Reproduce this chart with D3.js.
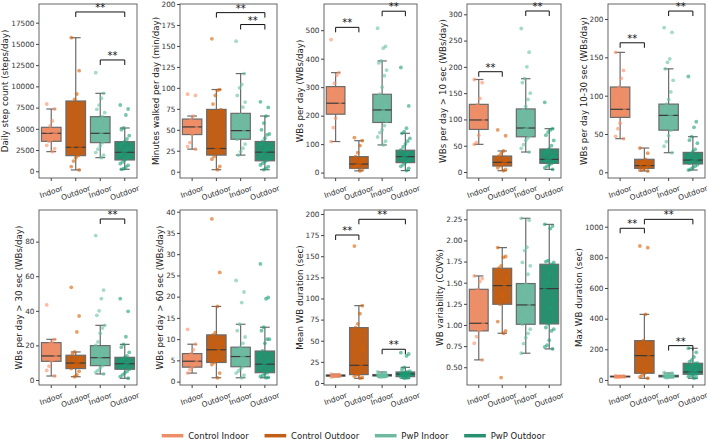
<!DOCTYPE html>
<html>
<head>
<meta charset="utf-8">
<script src="https://cdn.jsdelivr.net/npm/d3@7"></script>
<style>
  body { margin: 0; background: #fff; }
  svg { display: block; font-family: "DejaVu Sans", sans-serif; }
</style>
</head>
<body>
<svg id="chart" width="708" height="440"></svg>
<script>
const groups = ['Control Indoor', 'Control Outdoor', 'PwP Indoor', 'PwP Outdoor'];
const xLabels = ['Indoor', 'Outdoor', 'Indoor', 'Outdoor'];

const yLabels = [
    'Daily step count (steps/day)',
    'Minutes walked per day (min/day)',
    'WBs per day (WBs/day)',
    'WBs per day > 10 sec (WBs/day)',
    'WBs per day 10-30 sec (WBs/day)',
    'WBs per day > 30 sec (WBs/day)',
    'WBs per day > 60 sec (WBs/day)',
    'Mean WB duration (sec)',
    'WB variability (COV%)',
    'Max WB duration (sec)'
];

const yDomains = [
    [-790, 19700], [-7.5, 200], [-19, 592], [-11.4, 319.6], [-7.4, 219.6],
    [-2.9, 98.3], [-0.8, 40.4], [-2.4, 204.7], [0.29, 2.36], [-33, 1109]
];

const yTicks = [
    [0, 2500, 5000, 7500, 10000, 12500, 15000, 17500],
    [0, 25, 50, 75, 100, 125, 150, 175, 200],
    [0, 100, 200, 300, 400, 500],
    [0, 50, 100, 150, 200, 250, 300],
    [0, 50, 100, 150, 200],
    [0, 20, 40, 60, 80],
    [0, 5, 10, 15, 20, 25, 30, 35, 40],
    [0, 25, 50, 75, 100, 125, 150, 175, 200],
    [0.5, 0.75, 1.0, 1.25, 1.5, 1.75, 2.0, 2.25],
    [0, 200, 400, 600, 800, 1000]
];
const yFormats = ['d', 'd', 'd', 'd', 'd', 'd', 'd', 'd', '.2f', 'd'];

// [whisker low, Q1, median, Q3, whisker high] per panel, per group
const boxStats = [
    [[2315, 3531, 4472, 5178, 7336], [157, 1844, 2825, 8278, 15730], [1608, 3374, 4472, 6434, 9180], [235, 1334, 2236, 3492, 5100]],
    [[26.9, 44.3, 53.4, 62.8, 66.4], [2.4, 19.8, 27.7, 74.3, 98], [19.8, 38.7, 49, 69.6, 117], [2.4, 13, 23.3, 36, 66.4]],
    [[109, 205, 243.6, 302, 351], [6, 15, 30, 56, 112], [97, 176, 220, 275, 392], [7, 35, 56, 78.5, 138]],
    [[52.6, 81, 99, 128.7, 176], [2.5, 11.4, 18.4, 30.4, 40], [38, 67, 83.7, 120, 177.5], [5, 16.5, 24, 43.8, 82.4]],
    [[43.9, 71.7, 82.2, 111.3, 156.5], [1.7, 5.2, 8.7, 17, 31.7], [25.6, 55, 74.3, 89, 135], [3, 10.9, 16, 26, 46.5]],
    [[2.3, 10.8, 13.9, 21.6, 23.5], [1.9, 6.6, 9.8, 14.3, 16.2], [3.5, 8.3, 12.9, 19.9, 31.6], [1, 6.2, 9.4, 13.1, 20.6]],
    [[2.0, 3.4, 4.8, 6.6, 8.8], [0.9, 4.5, 7.5, 11.0, 17.7], [0.9, 3.5, 5.9, 8.1, 13.5], [0.9, 2.1, 4.1, 7.2, 12.8]],
    [[7.2, 8.0, 8.8, 9.5, 10.5], [5.5, 9.9, 20.9, 65.5, 91.5], [7, 8.2, 9, 10, 13], [5.5, 7.5, 10.6, 13, 18.5]],
    [[0.587, 0.93, 1.02, 1.422, 1.58], [0.902, 1.245, 1.466, 1.671, 1.915], [0.666, 1.008, 1.237, 1.49, 2.262], [0.717, 1.012, 1.43, 1.718, 2.19]],
    [[17, 20, 22, 25, 28], [11, 43.5, 158.7, 256.5, 428], [15, 20, 25, 30, 45], [11, 37, 52, 108.7, 206.5]]
];

// individual subjects per panel, per group
const points = [
    [
        [7925, 7336, 5924, 5335, 4668, 4472, 4300, 3688, 3531, 3060, 2668, 2315],
        [15730, 11848, 9100, 8470, 2900, 2825, 1844, 1600, 1200, 550, 157],
        [11612, 9180, 8600, 7800, 7300, 6900, 6434, 5900, 5500, 5100, 4800, 4472, 4200, 3900, 3600, 3374, 3000, 2600, 2200, 1900, 1608],
        [7807, 7336, 6630, 5100, 4900, 4200, 3800, 3492, 3300, 3000, 2700, 2400, 2236, 2000, 1800, 1600, 1334, 1100, 900, 700, 500, 300, 235]
    ],
    [
        [92.5, 91, 66.4, 62, 57, 53.4, 50, 44.3, 34.8, 30, 26.9],
        [158.5, 98, 97, 91, 80.6, 74, 28, 27.7, 18, 15, 6.3, 2.4],
        [155.7, 117, 104, 100, 91, 83, 77, 68, 60, 55, 49, 45, 42, 38.7, 33, 28, 24, 19.8],
        [83.4, 76.7, 66.4, 58, 50, 45, 44, 40, 36, 32, 28, 25, 23.3, 20, 17, 14, 12, 10, 8, 6, 4, 2.4]
    ],
    [
        [467, 351, 342, 314, 290, 245, 230, 191, 158, 109],
        [123, 112, 95, 70, 56, 45, 35, 30, 25, 18, 12, 6],
        [507, 443, 437, 392, 385, 360, 340, 300, 275, 250, 235, 220, 205, 195, 180, 165, 150, 140, 125, 110, 97],
        [369, 234, 156, 144, 138, 120, 110, 100, 90, 80, 70, 62, 56, 50, 45, 40, 35, 28, 22, 15, 7]
    ],
    [
        [176, 170, 140, 128, 110, 99, 90, 70, 56, 52.6],
        [80, 69, 40, 35, 30, 22, 18, 15, 12, 8, 5, 2.5],
        [273, 228, 200, 177.5, 170, 150, 138, 125, 118, 105, 95, 84, 80, 75, 70, 65, 60, 52, 45, 38],
        [132.5, 82.4, 80, 76, 70, 60, 50, 44, 40, 35, 30, 26, 24, 22, 19, 16, 14, 11, 8, 5]
    ],
    [
        [156.5, 133, 122.6, 111, 95, 82, 78, 64, 57, 47, 43.9],
        [31.7, 25, 17, 12, 10, 8.7, 7, 5.2, 4, 3, 1.7],
        [188.7, 182.6, 148, 143.5, 135, 120, 105, 95, 89, 82, 76, 74, 70, 64, 58, 55, 48, 40, 34, 25.6],
        [125, 66, 58.7, 46.5, 42, 38, 30, 27, 24, 20, 17, 16, 14, 12, 10, 8, 6, 4, 3]
    ],
    [
        [43.4, 23.5, 22, 21, 18, 14, 12, 10.8, 8, 5.5, 2.3],
        [53.6, 37, 27.8, 16.2, 15, 12, 10, 9.8, 8, 6.6, 5, 3, 1.9],
        [83.5, 52, 47, 40, 37.4, 31.6, 30, 27, 22, 20, 17, 14, 13, 11, 9.5, 8.3, 7, 5.5, 4.5, 3.5],
        [47, 39.7, 25, 20.6, 19, 16, 14, 13, 12, 11, 10, 9.4, 8, 7, 6.2, 5, 4, 3, 2, 1]
    ],
    [
        [12.3, 8.8, 7.5, 6.6, 5.5, 4.8, 4, 3.4, 2.8, 2.0],
        [38.3, 25.7, 17.7, 11.5, 11, 9, 7.5, 5, 4.5, 4, 2, 0.9],
        [23.8, 21.1, 18.6, 13.5, 12, 10.5, 9, 8.1, 7.5, 7, 6, 5.9, 5, 4.5, 4, 3.5, 3, 2.5, 2, 1.5, 0.9],
        [27.7, 19.8, 19.5, 12.8, 12, 10, 10, 9, 7.2, 6, 5, 4.5, 4.1, 3.5, 3, 2.1, 1.8, 1.4, 1.2, 1, 0.9]
    ],
    [
        [10.5, 9.8, 9.5, 9.2, 8.8, 8.5, 8.2, 8, 7.6, 7.2],
        [162, 91.5, 82, 70, 65.5, 40, 20.9, 10, 9.9, 8, 6.5, 5.5],
        [13, 12, 11, 10.5, 10, 9.7, 9.4, 9.2, 9, 8.8, 8.6, 8.4, 8.2, 8, 7.8, 7.5, 7.2, 7],
        [35.9, 34.3, 32, 18.5, 16, 14, 13, 12.5, 12, 11.5, 11, 10.6, 10, 9.5, 9, 8.5, 8, 7.5, 7, 6.5, 6, 5.5]
    ],
    [
        [1.58, 1.55, 1.513, 1.42, 1.2, 1.02, 0.95, 0.93, 0.863, 0.784, 0.587],
        [1.915, 1.81, 1.80, 1.70, 1.671, 1.55, 1.466, 1.35, 1.245, 1.04, 0.93, 0.902, 0.378],
        [2.262, 2.24, 1.92, 1.88, 1.74, 1.70, 1.60, 1.481, 1.40, 1.30, 1.237, 1.15, 1.05, 1.008, 0.95, 0.90, 0.85, 0.78, 0.666],
        [2.19, 2.17, 2.14, 1.76, 1.75, 1.74, 1.718, 1.60, 1.50, 1.43, 1.30, 1.20, 1.012, 0.97, 0.95, 0.93, 0.82, 0.76, 0.74, 0.717]
    ],
    [
        [28, 26, 25, 24, 22, 21, 20, 19, 18, 17],
        [874, 863, 428, 256, 200, 158.7, 60, 43.5, 30, 20, 11],
        [50, 45, 40, 35, 32, 30, 28, 27, 25, 24, 23, 22, 21, 20, 19, 18, 17, 15],
        [206.5, 180, 150, 130, 120, 110, 108.7, 95, 80, 70, 60, 52, 48, 44, 40, 37, 33, 28, 22, 16, 11]
    ]
];

// significance brackets: [group a, group b, bracket level]
const brackets = [
    [[1, 3, 18760], [2, 3, 13110]],
    [[1, 3, 189.7], [2, 3, 175.5]],
    [[0, 1, 510], [2, 3, 566.7]],
    [[0, 1, 190.8], [2, 3, 306.3]],
    [[0, 1, 169], [2, 3, 210.4]],
    [[2, 3, 93.1]],
    [],
    [[0, 1, 175.1], [1, 3, 193.7], [2, 3, 39.9]],
    [],
    [[0, 1, 989.6], [1, 3, 1048], [2, 3, 224]]
];

const boxColors = ['#ec8e68', '#c25f17', '#6fb9a1', '#28906f'];
const dotColors = ['#fc8d62', '#d95f02', '#66c2a5', '#1b9e77'];

const svg = d3.select('#chart');
const colLeft = [39, 180, 324, 467, 608];
const colRight = [137, 277, 417, 561, 705];
const rowTop = [4, 210];
const rowBottom = [178, 385];
const edge = '#6b6b6b';

function jitter(k) {
    return (((k * 7) % 9) - 4) / 4 * 4.5;
}

function drawPanel(p) {
    const r = Math.floor(p / 5), c = p % 5;
    const left = colLeft[c], right = colRight[c], top = rowTop[r], bottom = rowBottom[r];

    const x = d3.scaleBand().domain(d3.range(4)).range([left, right])
        .paddingInner(0.2).paddingOuter(0.1);
    const y = d3.scaleLinear().domain(yDomains[p]).range([bottom, top]);
    const bw = x.bandwidth();
    const g = svg.append('g');

    boxStats[p].forEach((s, i) => {
        const [lo, q1, med, q3, hi] = s;
        const cx = x(i) + bw / 2;
        const b = g.append('g');
        b.append('line').attr('x1', cx).attr('x2', cx).attr('y1', y(hi)).attr('y2', y(q3))
            .attr('stroke', edge).attr('stroke-width', 1.2);
        b.append('line').attr('x1', cx).attr('x2', cx).attr('y1', y(q1)).attr('y2', y(lo))
            .attr('stroke', edge).attr('stroke-width', 1.2);
        [hi, lo].forEach(v => {
            b.append('line').attr('x1', cx - bw / 4).attr('x2', cx + bw / 4)
                .attr('y1', y(v)).attr('y2', y(v))
                .attr('stroke', edge).attr('stroke-width', 1.2);
        });
        b.append('rect').attr('x', x(i)).attr('y', y(q3))
            .attr('width', bw).attr('height', Math.max(0.5, y(q1) - y(q3)))
            .attr('fill', boxColors[i]).attr('stroke', edge).attr('stroke-width', 1.2);
        b.append('line').attr('x1', x(i)).attr('x2', x(i) + bw).attr('y1', y(med)).attr('y2', y(med))
            .attr('stroke', '#3a3a3a').attr('stroke-width', 1.2);
    });

    points[p].forEach((vals, i) => {
        const cx = x(i) + bw / 2;
        g.append('g').selectAll('circle').data(vals).enter().append('circle')
            .attr('cx', (d, k) => cx + jitter(k))
            .attr('cy', d => y(d))
            .attr('r', 1.9)
            .attr('fill', dotColors[i])
            .attr('fill-opacity', 0.6);
    });

    g.append('rect').attr('x', left).attr('y', top)
        .attr('width', right - left).attr('height', bottom - top)
        .attr('fill', 'none').attr('stroke', '#555').attr('stroke-width', 0.9);

    const ya = g.append('g').attr('transform', `translate(${left},0)`)
        .call(d3.axisLeft(y).tickValues(yTicks[p]).tickFormat(d3.format(yFormats[p]))
            .tickSize(3).tickPadding(1.5));
    ya.select('.domain').remove();
    ya.attr('color', '#444');
    ya.selectAll('text').attr('font-size', 7.3).attr('fill', '#333')
        .attr('font-family', '"DejaVu Sans", sans-serif');

    const maxW = d3.max(ya.selectAll('text').nodes(), n => n.getComputedTextLength());
    g.append('text')
        .attr('transform', `translate(${left - 4.5 - maxW - 6},${(top + bottom) / 2}) rotate(-90)`)
        .attr('text-anchor', 'middle').attr('dominant-baseline', 'central')
        .attr('font-size', 8.7).attr('fill', '#222')
        .text(yLabels[p]);

    const theta = 20 * Math.PI / 180;
    xLabels.forEach((lab, i) => {
        const cx = x(i) + bw / 2;
        g.append('line').attr('x1', cx).attr('x2', cx).attr('y1', bottom).attr('y2', bottom + 3)
            .attr('stroke', '#444');
        const t = g.append('text').attr('text-anchor', 'middle').attr('dominant-baseline', 'central')
            .attr('font-size', 7.5).attr('fill', '#333').text(lab);
        const L = t.node().getComputedTextLength();
        const H = L * Math.sin(theta) + 8 * Math.cos(theta);
        t.attr('transform', `translate(${cx},${bottom + 6 + H / 2}) rotate(-20)`);
    });

    brackets[p].forEach(([a, b, lvl]) => {
        const x1 = x(a) + bw / 2, x2 = x(b) + bw / 2, yl = y(lvl);
        g.append('path')
            .attr('d', `M${x1},${yl + 5}V${yl}H${x2}V${yl + 5}`)
            .attr('fill', 'none').attr('stroke', '#111').attr('stroke-width', 1);
        g.append('text').attr('x', (x1 + x2) / 2).attr('y', yl - 1)
            .attr('text-anchor', 'middle').attr('font-size', 10).attr('fill', '#111')
            .text('**');
    });
}

yLabels.forEach((_, p) => drawPanel(p));

// legend
let lx = 161.7;
const ly = 435.7;
groups.forEach((name, i) => {
    svg.append('line').attr('x1', lx).attr('x2', lx + 21.7).attr('y1', ly).attr('y2', ly)
        .attr('stroke', boxColors[i]).attr('stroke-width', 3.5);
    const t = svg.append('text').attr('x', lx + 26.5).attr('y', ly)
        .attr('dominant-baseline', 'central').attr('font-size', 8.5).attr('fill', '#222')
        .text(name);
    lx += 26.5 + t.node().getComputedTextLength() + 15.7;
});
</script>
</body>
</html>
